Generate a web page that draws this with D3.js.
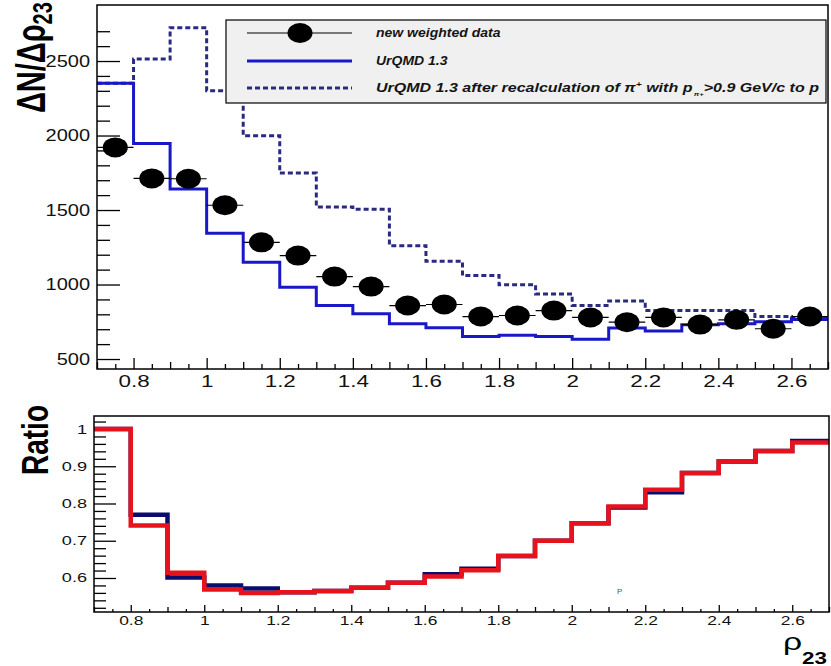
<!DOCTYPE html>
<html>
<head>
<meta charset="utf-8">
<script src="https://cdn.jsdelivr.net/npm/d3@7"></script>
<style>
  html, body { margin: 0; padding: 0; background: #fff; }
  svg { display: block; }
</style>
</head>
<body>
<script>
// ---- data: rho_23 bins (low edges, width 0.1) ----
const binLow = [0.7, 0.8, 0.9, 1.0, 1.1, 1.2, 1.3, 1.4, 1.5, 1.6,
                1.7, 1.8, 1.9, 2.0, 2.1, 2.2, 2.3, 2.4, 2.5, 2.6];
const binWidth = 0.1;

// dN/d rho_23 distributions
const urqmd       = [2350, 1947, 1641, 1344, 1149, 982, 859, 803, 736, 710,
                     651, 660, 651, 633, 708, 688, 730, 736, 750, 765];
const urqmdRecalc = [2350, 2513, 2724, 2300, 1998, 1748, 1520, 1505, 1261, 1156,
                     1060, 998, 937, 860, 890, 825, 825, 825, 785, 777];
const weighted    = [1920, 1712, 1710, 1532, 1283, 1194, 1053, 986, 859, 866,
                     785, 792, 825, 779, 747, 779, 731, 763, 703, 785];

// ratio panel
const ratioUrqmd  = [1.000, 0.770, 0.601, 0.580, 0.572, 0.562, 0.565, 0.574, 0.587, 0.610,
                     0.625, 0.659, 0.700, 0.747, 0.789, 0.830, 0.882, 0.913, 0.941, 0.968];
const ratioRecalc = [1.000, 0.741, 0.614, 0.569, 0.560, 0.562, 0.565, 0.574, 0.587, 0.604,
                     0.621, 0.659, 0.700, 0.747, 0.792, 0.837, 0.882, 0.913, 0.941, 0.964];

// tick labels
const xTickLabels    = [0.8, 1.0, 1.2, 1.4, 1.6, 1.8, 2.0, 2.2, 2.4, 2.6];
const topYTickLabels = [500, 1000, 1500, 2000, 2500];
const botYTickLabels = [0.6, 0.7, 0.8, 0.9, 1.0];

const legendLabels = ["new weighted data", "UrQMD 1.3"];

// ---- layout ----
const W = 831, H = 666;
const FONT = "'Liberation Sans', Arial, Helvetica, sans-serif";
const BLUE = "#1818c8", DASH = "#2a2a80", NAVY = "#0c0c6c", RED = "#e8121c";

const topBox = { x0: 97, x1: 828, y0: 5, y1: 369 };
const botBox = { x0: 94, x1: 829, y0: 416, y1: 612 };

const svg = d3.select("body").append("svg")
  .attr("width", W).attr("height", H)
  .style("font-family", FONT);

const xTop = d3.scaleLinear().domain([0.7, 2.7]).range([topBox.x0, topBox.x1]);
const yTop = d3.scaleLinear().domain([433, 2876]).range([topBox.y1, topBox.y0]);
const xBot = d3.scaleLinear().domain([0.7, 2.7]).range([botBox.x0, botBox.x1]);
const yBot = d3.scaleLinear().domain([0.5087, 1.0349]).range([botBox.y1, botBox.y0]);

const fmt = d => String(+(+d).toFixed(2));

function stepPoints(vals) {
  const pts = binLow.map((b, i) => [b, vals[i]]);
  pts.push([binLow[binLow.length - 1] + binWidth, vals[vals.length - 1]]);
  return pts;
}
const stepLine = (xs, ys) => d3.line()
  .x(d => xs(d[0])).y(d => ys(d[1])).curve(d3.curveStepAfter);

// clip paths for the two pads
const defs = svg.append("defs");
defs.append("clipPath").attr("id", "clipTop").append("rect")
  .attr("x", topBox.x0).attr("y", topBox.y0)
  .attr("width", topBox.x1 - topBox.x0).attr("height", topBox.y1 - topBox.y0);
defs.append("clipPath").attr("id", "clipBot").append("rect")
  .attr("x", botBox.x0).attr("y", botBox.y0)
  .attr("width", botBox.x1 - botBox.x0).attr("height", botBox.y1 - botBox.y0);

// ---- axis helpers: inward ticks, stretched labels ----
function styleAxis(g, fontSize, sx, anchorShift) {
  g.attr("font-family", FONT).attr("font-size", fontSize);
  g.select(".domain").remove();
  g.selectAll(".tick line").attr("stroke", "#000").attr("stroke-width", 1.3);
  g.selectAll(".tick text").attr("fill", "#111")
    .attr("transform", `scale(${sx},1)`);
  if (anchorShift !== undefined) g.selectAll(".tick text").attr("x", anchorShift / sx);
}

function minorAxis(axisFn, scale, values, size) {
  return axisFn(scale).tickValues(values).tickSize(size).tickFormat("").tickSizeOuter(0);
}

function drawXAxis(scale, box, opt) {
  const g0 = svg.append("g").attr("transform", `translate(0,${box.y1})`);
  const fine = d3.range(0.75, 2.7, 0.1);
  const mid = d3.range(0.7, 2.71, 0.2).map(v => +v.toFixed(2));
  g0.append("g").call(minorAxis(d3.axisBottom, scale, fine, -opt.small)).call(g => styleAxis(g, 1, 1));
  g0.append("g").call(minorAxis(d3.axisBottom, scale, mid, -opt.mid)).call(g => styleAxis(g, 1, 1));
  g0.append("g")
    .call(d3.axisBottom(scale).tickValues(xTickLabels).tickFormat(fmt)
      .tickSize(-opt.big).tickSizeOuter(0).tickPadding(opt.pad))
    .call(g => styleAxis(g, opt.font, opt.sx));
}

function drawYAxis(scale, box, labels, minors, opt) {
  const g0 = svg.append("g").attr("transform", `translate(${box.x0},0)`);
  g0.append("g").call(minorAxis(d3.axisLeft, scale, minors, -opt.small)).call(g => styleAxis(g, 1, 1));
  g0.append("g")
    .call(d3.axisLeft(scale).tickValues(labels).tickFormat(fmt)
      .tickSize(-opt.big).tickSizeOuter(0))
    .call(g => styleAxis(g, opt.font, opt.sx, -opt.pad));
}

// ================= top pad =================
const topPad = svg.append("g");

drawXAxis(xTop, topBox, { small: 5, mid: 7, big: 11, pad: 7, font: 16, sx: 1.4 });
drawYAxis(yTop, topBox, topYTickLabels,
  d3.range(500, 2800, 100).filter(v => v % 500 !== 0),
  { small: 13, big: 23, pad: 7, font: 16, sx: 1.25 });

const topPlot = topPad.append("g").attr("clip-path", "url(#clipTop)");

// recalculated UrQMD (dashed)
topPlot.append("path")
  .attr("d", stepLine(xTop, yTop)(stepPoints(urqmdRecalc)))
  .attr("fill", "none").attr("stroke", DASH).attr("stroke-width", 3)
  .attr("stroke-dasharray", "5,3");

// UrQMD 1.3 (solid)
topPlot.append("path")
  .attr("d", stepLine(xTop, yTop)(stepPoints(urqmd)))
  .attr("fill", "none").attr("stroke", BLUE).attr("stroke-width", 3);

// weighted data: horizontal bin-width error bars + markers
const pts = topPlot.append("g");
pts.selectAll("line.err").data(weighted).join("line")
  .attr("class", "err")
  .attr("x1", (d, i) => xTop(binLow[i]))
  .attr("x2", (d, i) => xTop(binLow[i] + binWidth))
  .attr("y1", d => yTop(d)).attr("y2", d => yTop(d))
  .attr("stroke", "#000").attr("stroke-width", 1.2);
pts.selectAll("ellipse").data(weighted).join("ellipse")
  .attr("cx", (d, i) => xTop(binLow[i] + binWidth / 2))
  .attr("cy", d => yTop(d))
  .attr("rx", 12.5).attr("ry", 10).attr("fill", "#000");

// frame
topPad.append("rect")
  .attr("x", topBox.x0).attr("y", topBox.y0)
  .attr("width", topBox.x1 - topBox.x0).attr("height", topBox.y1 - topBox.y0)
  .attr("fill", "none").attr("stroke", "#000").attr("stroke-width", 1.5);

// legend
const leg = svg.append("g");
leg.append("rect").attr("x", 226).attr("y", 20).attr("width", 600).attr("height", 83)
  .attr("fill", "#f0f0f0").attr("stroke", "#000").attr("stroke-width", 1.2);
const rows = [33, 61, 88];
leg.append("line").attr("x1", 247).attr("x2", 352).attr("y1", rows[0]).attr("y2", rows[0])
  .attr("stroke", "#000").attr("stroke-width", 1.2);
leg.append("ellipse").attr("cx", 300).attr("cy", rows[0]).attr("rx", 12.5).attr("ry", 10).attr("fill", "#000");
leg.append("line").attr("x1", 247).attr("x2", 352).attr("y1", rows[1]).attr("y2", rows[1])
  .attr("stroke", BLUE).attr("stroke-width", 3);
leg.append("line").attr("x1", 247).attr("x2", 352).attr("y1", rows[2]).attr("y2", rows[2])
  .attr("stroke", DASH).attr("stroke-width", 3).attr("stroke-dasharray", "5,3");

function legText(y, sx) {
  return leg.append("text")
    .attr("transform", `translate(376,${y + 4}) scale(${sx},1)`)
    .attr("font-size", 12.5).attr("font-weight", "bold").attr("font-style", "italic")
    .attr("fill", "#141414");
}
legText(rows[0], 1.12).text(legendLabels[0]);
legText(rows[1], 1.12).text(legendLabels[1]);
const t3 = legText(rows[2], 1.12);
t3.append("tspan").text("UrQMD 1.3 after recalculation of π");
t3.append("tspan").attr("font-size", 8).attr("dy", -5).text("+");
t3.append("tspan").attr("dy", 5).text(" with p");
t3.append("tspan").attr("font-size", 6).attr("dx", 1).attr("dy", 4).text("π+");
t3.append("tspan").attr("dy", -4).text(">0.9 GeV/c to p");
// stretch the long entry so it runs to the right end of the box
const w3 = t3.node().getComputedTextLength();
t3.attr("transform", `translate(376,${rows[2] + 4}) scale(${442 / w3},1)`);

// y title
const yt = svg.append("text")
  .attr("transform", "translate(45,113) rotate(-90) scale(1,1.4)")
  .attr("font-size", 29).attr("font-weight", "bold").attr("fill", "#000");
yt.append("tspan").text("ΔN/Δρ");
yt.append("tspan").attr("font-size", 20).attr("dy", 5).text("23");

// ================= ratio pad =================
drawXAxis(xBot, botBox, { small: 3, mid: 5, big: 7, pad: 4, font: 12, sx: 1.45 });
drawYAxis(yBot, botBox, botYTickLabels,
  d3.range(0.52, 1.03, 0.02).map(v => +v.toFixed(2)).filter(v => Math.round(v * 100) % 10 !== 0),
  { small: 12, big: 22, pad: 7, font: 12.5, sx: 1.45 });

const botPlot = svg.append("g").attr("clip-path", "url(#clipBot)");
botPlot.append("path")
  .attr("d", stepLine(xBot, yBot)(stepPoints(ratioUrqmd)))
  .attr("fill", "none").attr("stroke", NAVY).attr("stroke-width", 4.5);
botPlot.append("path")
  .attr("d", stepLine(xBot, yBot)(stepPoints(ratioRecalc)))
  .attr("fill", "none").attr("stroke", RED).attr("stroke-width", 4.5);

svg.append("text").attr("x", 617).attr("y", 594).attr("font-size", 8)
  .attr("fill", "#555").text("P");

svg.append("rect")
  .attr("x", botBox.x0).attr("y", botBox.y0)
  .attr("width", botBox.x1 - botBox.x0).attr("height", botBox.y1 - botBox.y0)
  .attr("fill", "none").attr("stroke", "#000").attr("stroke-width", 1.5);

// ratio title
svg.append("text")
  .attr("transform", "translate(48,475) rotate(-90) scale(1,1.3)")
  .attr("font-size", 28).attr("font-weight", "bold").attr("fill", "#000")
  .text("Ratio");

// x title
const xt = svg.append("text")
  .attr("transform", "translate(783,650) scale(1.4,1)")
  .attr("fill", "#000");
xt.append("tspan").attr("font-size", 24).text("ρ");
xt.append("tspan").attr("font-size", 16).attr("font-weight", "bold").attr("dy", 14).text("23");
</script>
</body>
</html>
